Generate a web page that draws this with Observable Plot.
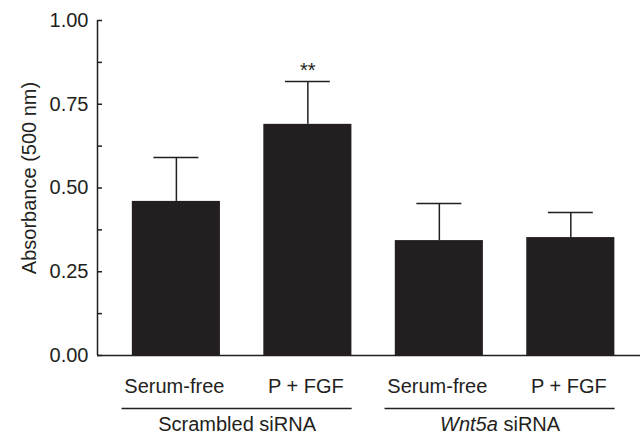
<!DOCTYPE html>
<html>
<head>
<meta charset="utf-8">
<script src="https://cdn.jsdelivr.net/npm/d3@7"></script>
<script src="https://cdn.jsdelivr.net/npm/@observablehq/plot@0.6"></script>
<style>
  html, body { margin: 0; padding: 0; background: #fff; }
  svg { overflow: visible; }
</style>
</head>
<body>
<div id="chart"></div>
<script>
// ---- data ----
const conditions = ["Serum-free", "P + FGF", "Serum-free", "P + FGF"];
const groupOfBar = [0, 0, 1, 1];
const groups = ["Scrambled siRNA", "Wnt5a siRNA"];
const means = [0.46, 0.69, 0.343, 0.352];
const errors = [0.131, 0.128, 0.111, 0.075];
const significance = ["", "**", "", ""];
const yTicks = [0, 0.25, 0.5, 0.75, 1];
const yMinorTicks = [0, 0.125, 0.25, 0.375, 0.5, 0.625, 0.75, 0.875, 1];
const yLabel = "Absorbance (500 nm)";

// ---- build table ----
const bars = conditions.map((c, i) => ({
  i, condition: c, group: groupOfBar[i], mean: means[i], err: errors[i],
  upper: means[i] + errors[i], sig: significance[i]
}));
const groupRows = groups.map((g, k) => {
  const idx = bars.filter(b => b.group === k).map(b => b.i);
  return { label: g, center: d3.mean(idx) };
});

const ink = "#231f20";
const xMin = -0.6, xMax = 3.53;
const barHalf = 0.335, capHalf = 0.171, lineHalf = 0.875, tickLen = 0.038;

const chart = Plot.plot({
  width: 642,
  height: 434,
  marginLeft: 97,
  marginRight: 2,
  marginTop: 20,
  marginBottom: 79,
  style: { fontFamily: "'Liberation Sans', Arial, Helvetica, sans-serif", fontSize: "20px", color: ink, background: "#fff", overflow: "visible" },
  x: { domain: [xMin, xMax], axis: null },
  y: { domain: [0, 1], axis: null },
  marks: [
    Plot.rectY(bars, { x1: d => d.i - barHalf, x2: d => d.i + barHalf, y: "mean", fill: ink }),
    Plot.ruleX(bars, { x: "i", y1: "mean", y2: "upper", stroke: ink, strokeWidth: 1.5 }),
    Plot.ruleY(bars, { y: "upper", x1: d => d.i - capHalf, x2: d => d.i + capHalf, stroke: ink, strokeWidth: 1.5 }),
    Plot.text(bars.filter(d => d.sig), { x: "i", y: "upper", text: "sig", dy: -10.5, fill: ink, fontSize: 20 }),
    // axes
    Plot.ruleY([0], { stroke: ink, strokeWidth: 1.5 }),
    Plot.ruleX([xMin], { y1: 0, y2: 1, stroke: ink, strokeWidth: 1.5 }),
    Plot.ruleY(yMinorTicks, { y: d => d, x1: xMin, x2: xMin + tickLen, stroke: ink, strokeWidth: 1.5 }),
    Plot.text(yTicks, { y: d => d, x: xMin, text: d => d3.format(".2f")(d), textAnchor: "end", dx: -9, fill: ink, fontSize: 20 }),
    Plot.text([yLabel], { frameAnchor: "left", textAnchor: "middle", text: d => d, rotate: -90, dx: -68, dy: -10, fill: ink, fontSize: 20 }),
    // category labels
    Plot.text(bars, { x: "i", y: 0, text: "condition", dy: 31.5, dx: -2, fill: ink, fontSize: 20 }),
    Plot.ruleY(groupRows, { y: 0, x1: d => d.center - lineHalf, x2: d => d.center + lineHalf, dy: 53, dx: -5, stroke: ink, strokeWidth: 1.5 }),
    Plot.text(groupRows, { x: "center", y: 0, text: "label", dy: 69.5, dx: -5, fill: ink, fontSize: 20 })
  ]
});

// italicise the gene name
d3.select(chart).selectAll("text").each(function () {
  const t = this.textContent;
  if (t === "Wnt5a siRNA") {
    const el = d3.select(this);
    el.text(null);
    el.append("tspan").attr("font-style", "italic").text("Wnt5a");
    el.append("tspan").text(" siRNA");
  }
});

document.getElementById("chart").appendChild(chart);
</script>
</body>
</html>
